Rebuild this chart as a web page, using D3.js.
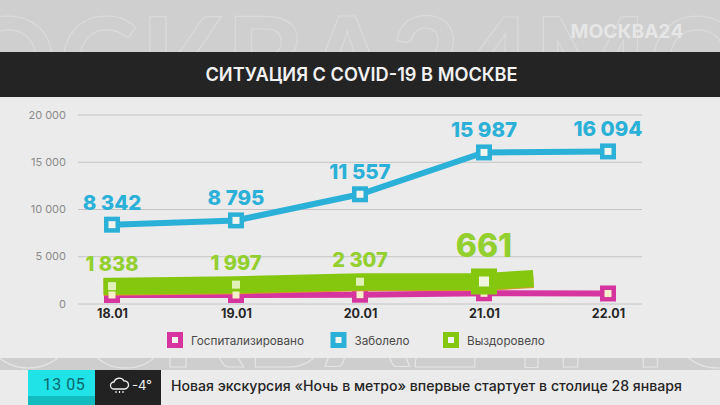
<!DOCTYPE html>
<html lang="ru">
<head>
<meta charset="UTF-8">
<title>Ситуация с COVID-19 в Москве</title>
<script src="https://d3js.org/d3.v7.min.js"></script>
<style>
    html,body{margin:0;padding:0;background:#ebebeb;}
    svg{display:block;}
    text{font-family:Inter,"Noto Sans",sans-serif;}
</style>
</head>
<body>
<svg id="chart" width="720" height="405"></svg>
<script>
var days = ["18.01","19.01","20.01","21.01","22.01"];
var yTicks = [0,5000,10000,15000,20000];
var yTickLabels = ["0","5 000","10 000","15 000","20 000"];
var hospitalized = [900,900,930,1080,1060];
var infected = [8342,8795,11557,15987,16094];
var infectedLabels = ["8 342","8 795","11 557","15 987","16 094"];
var recovered = [1838,1997,2307,2330];
var recoveredLabels = ["1 838","1 997","2 307","661"];
// the green line is caught mid animation, it stops between 21.01 and 22.01
var recoveredTailIndex = 3.33;
var recoveredTailValue = 2590;
var legendNames = ["Госпитализировано","Заболело","Выздоровело"];

var pink = "#d6359f", blue = "#2bb0d8", green = "#84c70e", hole = "#f2f4ee";

var svg = d3.select("#chart");
var x = d3.scaleLinear().domain([0,4]).range([112,608]);
var y = d3.scaleLinear().domain([0,20000]).range([303.5,114.5]);

// background bands
svg.append("rect").attr("width",720).attr("height",52).attr("fill","#cfcfcf");
svg.append("rect").attr("y",358).attr("width",720).attr("height",12).attr("fill","#cecece");

var defs = svg.append("defs");
defs.append("clipPath").attr("id","topClip").append("rect").attr("width",720).attr("height",52);
defs.append("clipPath").attr("id","botClip").append("rect").attr("y",358).attr("width",720).attr("height",12);

svg.append("text").attr("clip-path","url(#topClip)")
    .attr("x",-40).attr("y",104)
    .attr("font-size",120).attr("font-weight",700).attr("letter-spacing",2)
    .attr("fill","none").attr("stroke","#dadada").attr("stroke-width",1.2)
    .style("font-family","Lato")
    .text("ОСКВА24МОС");
svg.append("text").attr("clip-path","url(#botClip)")
    .attr("x",-20).attr("y",367)
    .attr("font-size",120).attr("font-weight",700).attr("letter-spacing",2)
    .attr("fill","none").attr("stroke","#e4e4e4").attr("stroke-width",1.2)
    .style("font-family","Lato")
    .text("ОСКВА24МОС");

svg.append("text").attr("x",627).attr("y",38).attr("text-anchor","middle")
    .attr("font-size",19.3).attr("font-weight",700).attr("fill","#e6e6e6").text("МОСКВА24");

// title
svg.append("rect").attr("y",52).attr("width",720).attr("height",45).attr("fill","#242424");
svg.append("text").attr("x",361.5).attr("y",80.5).attr("text-anchor","middle")
    .attr("font-size",18.2).attr("font-weight",600).attr("fill","#f2f2f2").text("СИТУАЦИЯ С COVID-19 В МОСКВЕ");

// axes
var yAxis = d3.axisLeft(y).tickValues(yTicks).tickSize(-564).tickPadding(12)
    .tickFormat(function(d,i){return yTickLabels[i];});
var gy = svg.append("g").attr("transform","translate(78,0)").call(yAxis);
gy.select(".domain").remove();
gy.selectAll("line").attr("stroke","#c4c4c4").attr("stroke-width",1);
gy.selectAll("text").attr("font-size",11).attr("fill","#8a8a8a").style("font-family","Inter");

var xAxis = d3.axisBottom(x).tickValues(d3.range(days.length)).tickSize(0).tickPadding(0)
    .tickFormat(function(d){return days[d];});
var gx = svg.append("g").attr("transform","translate(0,307)").call(xAxis);
gx.select(".domain").remove();
gx.selectAll("text").attr("font-size",12.5).attr("font-weight",700).attr("fill","#262626").attr("dy","0.9em").style("font-family","Inter");

var line = d3.line().x(function(d){return x(d[0]);}).y(function(d){return y(d[1]);});
function pts(a){return a.map(function(v,i){return [i,v];});}

function squares(values,color,size){
    svg.append("g").selectAll("rect").data(pts(values)).enter().append("rect")
        .attr("x",function(d){return x(d[0])-size/2;}).attr("y",function(d){return y(d[1])-size/2;})
        .attr("width",size).attr("height",size).attr("fill",color);
}

// hospitalized
svg.append("path").attr("d",line(pts(hospitalized))).attr("fill","none").attr("stroke",pink).attr("stroke-width",6);
squares(hospitalized,pink,16);

// infected
svg.append("path").attr("d",line(pts(infected))).attr("fill","none").attr("stroke",blue).attr("stroke-width",6);
squares(infected,blue,16);
squares(infected,hole,7);

// recovered: very thick stroke, orange fringe under it
var greenPts = pts(recovered).concat([[recoveredTailIndex,recoveredTailValue]]);
svg.append("path").attr("d",line(greenPts)).attr("fill","none").attr("stroke","#d69a2c").attr("stroke-width",17)
    .attr("stroke-linecap","square").attr("transform","translate(0,1)");
svg.append("path").attr("d",line(greenPts)).attr("fill","none").attr("stroke",green).attr("stroke-width",17)
    .attr("stroke-linecap","square");
squares(hospitalized,"#f6f0c8",7);
squares(recovered.slice(0,3),"#dff0b8",8);
// 21.01 marker is still scaled up
var big = svg.append("g").selectAll("rect").data([[3,recovered[3]]]).enter();
big.append("rect").attr("x",function(d){return x(d[0])-13;}).attr("y",function(d){return y(d[1])-13;})
    .attr("width",26).attr("height",26).attr("fill",green);
big.append("rect").attr("x",function(d){return x(d[0])-5;}).attr("y",function(d){return y(d[1])-5;})
    .attr("width",10).attr("height",10).attr("fill","#f0f5e0");

// value labels
svg.append("g").selectAll("text").data(infectedLabels).enter().append("text")
    .attr("x",function(d,i){return x(i);})
    .attr("y",function(d,i){return y(infected[i])-15;})
    .attr("text-anchor","middle").attr("font-size",20.5).attr("font-weight",800).attr("fill",blue)
    .text(function(d){return d;});
svg.append("g").selectAll("text").data(recoveredLabels).enter().append("text")
    .attr("x",function(d,i){return x(i);})
    .attr("y",function(d,i){return i==3?257:y(recovered[i])-15;})
    .attr("text-anchor","middle").attr("font-size",function(d,i){return i==3?32:20;}).attr("font-weight",800).attr("fill","#93cf2e")
    .text(function(d){return d;});

// legend
var legendColors = [pink,blue,green];
var legendBoxX = [175,338.5,451];
var lg = svg.append("g").selectAll("g").data(legendNames).enter().append("g")
    .attr("transform",function(d,i){return "translate("+legendBoxX[i]+",340)";});
lg.append("rect").attr("x",-8).attr("y",-8).attr("width",16).attr("height",16).attr("fill",function(d,i){return legendColors[i];});
lg.append("rect").attr("x",-3).attr("y",-3).attr("width",6).attr("height",6).attr("fill",hole);
lg.append("text").attr("x",16).attr("y",4.5).attr("font-size",11.7).attr("fill","#4a4a4a").text(function(d){return d;});

// ticker
svg.append("rect").attr("x",28).attr("y",370).attr("width",67).attr("height",26).attr("fill","#1fe3e6");
svg.append("rect").attr("x",28).attr("y",396).attr("width",67).attr("height",9).attr("fill","#12bcbe");
svg.append("rect").attr("x",95).attr("y",370).attr("width",66).attr("height",35).attr("fill","#222");
svg.append("text").attr("x",64).attr("y",390).attr("text-anchor","middle").attr("font-size",16).attr("letter-spacing",0.5)
    .attr("fill","#0c6a70").style("font-family","Roboto").text("13 05");
svg.append("path").attr("d","M114 389 a3.500 3.500 0 0 1 0-7 a5.500 5.500 0 0 1 10-1 a4 4 0 0 1 1 8 z")
    .attr("fill","none").attr("stroke","#f2f2f2").attr("stroke-width",1.3);
svg.append("path").attr("d","M116 391v2M119.500 391v2M123 391v2").attr("stroke","#f2f2f2").attr("stroke-width",1.2);
svg.append("text").attr("x",132).attr("y",390).attr("font-size",13).attr("fill","#f2f2f2").text("-4°");
svg.append("text").attr("x",171).attr("y",391).attr("font-size",14.1).attr("font-weight",500).attr("fill","#252525")
    .text("Новая экскурсия «Ночь в метро» впервые стартует в столице 28 января");
</script>
</body>
</html>
